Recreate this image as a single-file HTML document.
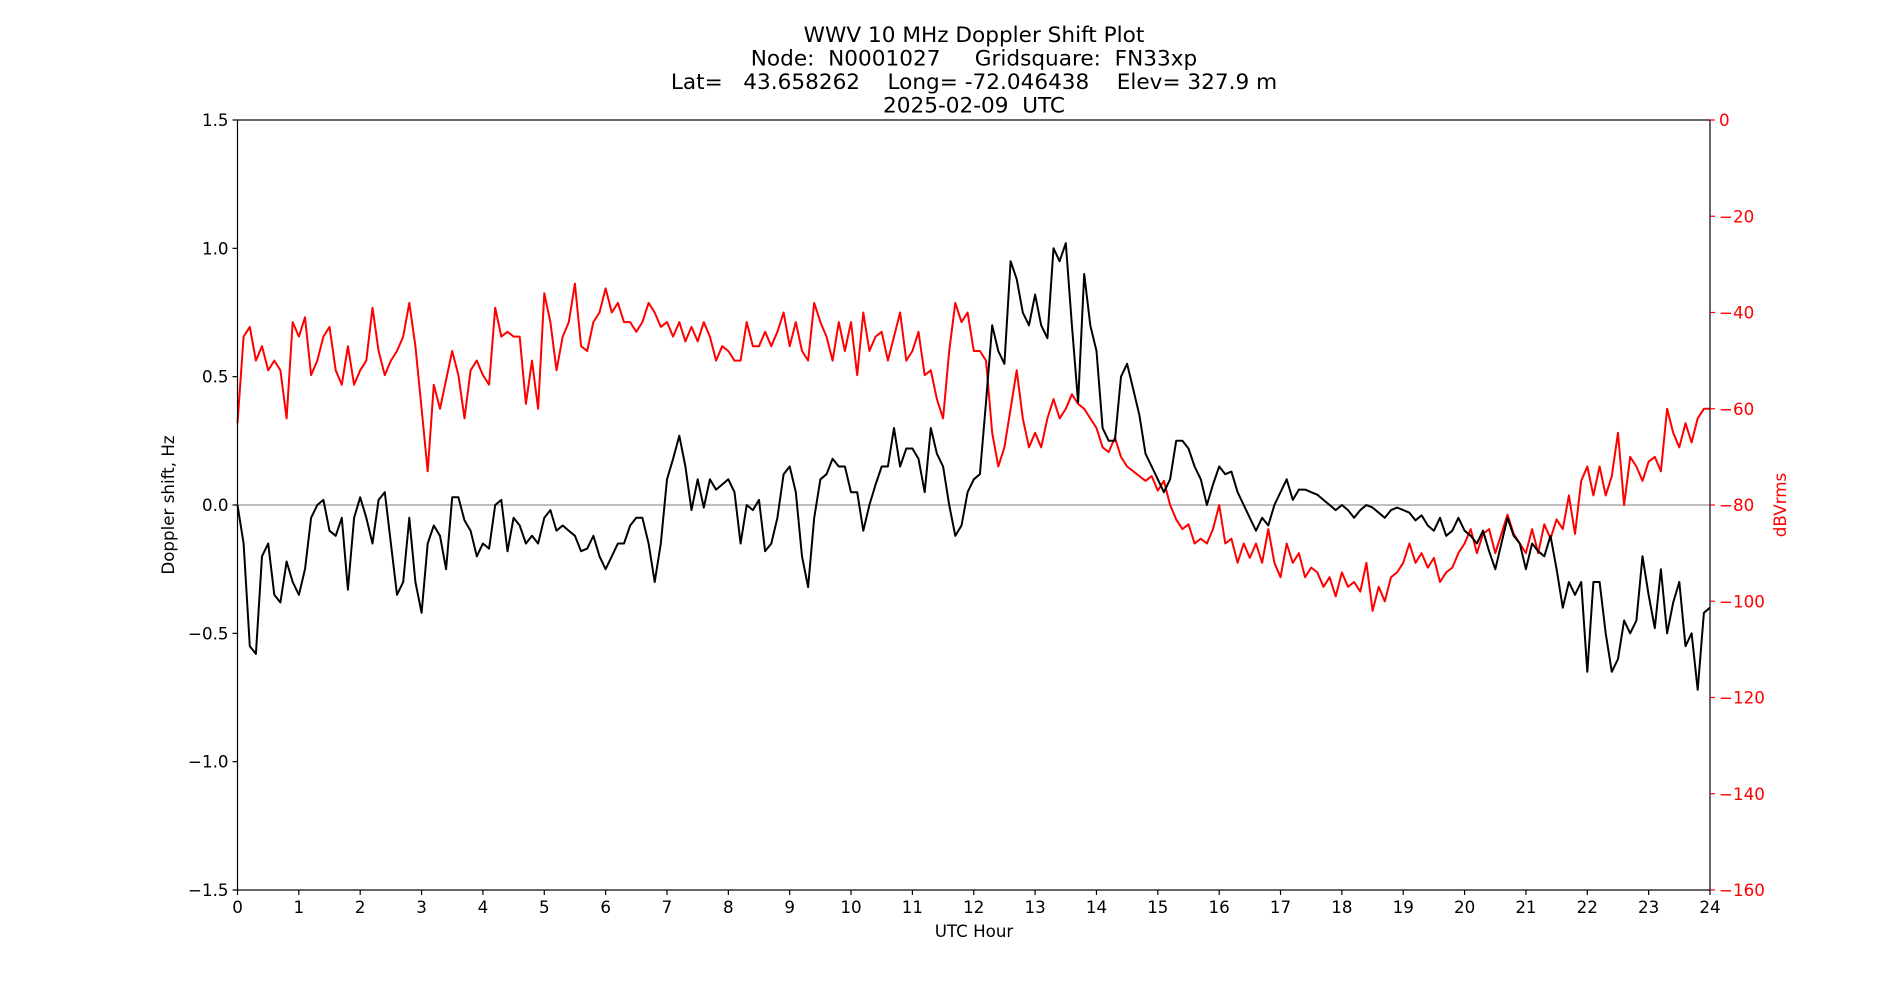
<!DOCTYPE html>
<html><head><meta charset="utf-8"><style>
html,body{margin:0;padding:0;background:#fff;}
svg{display:block;font-family:"DejaVu Sans","Liberation Sans",sans-serif;}
</style></head><body>
<svg id="chart" width="1900" height="1000" viewBox="0 0 1900 1000" xmlns="http://www.w3.org/2000/svg">
<g font-size="21.6" text-anchor="middle" fill="#000" style="white-space:pre">
<text x="974" y="42">WWV 10 MHz Doppler Shift Plot</text>
<text x="974" y="65.5" xml:space="preserve">Node:  N0001027     Gridsquare:  FN33xp</text>
<text x="974" y="89" xml:space="preserve">Lat=   43.658262    Long= -72.046438    Elev= 327.9 m</text>
<text x="974" y="112.5" xml:space="preserve">2025-02-09  UTC</text>
</g>
<g id="plot"></g>
<text x="974" y="937" font-size="16.7" text-anchor="middle">UTC Hour</text>
<text transform="translate(174,505) rotate(-90)" font-size="16.7" text-anchor="middle">Doppler shift, Hz</text>
<text transform="translate(1786,505) rotate(-90)" font-size="16.7" text-anchor="middle" fill="#ff0000">dBVrms</text>
</svg>
<script>
const dopplerHz = [0.0,-0.15,-0.55,-0.58,-0.2,-0.15,-0.35,-0.38,-0.22,-0.3,-0.35,-0.25,-0.05,0.0,0.02,-0.1,-0.12,-0.05,-0.33,-0.05,0.03,-0.05,-0.15,0.02,0.05,-0.15,-0.35,-0.3,-0.05,-0.3,-0.42,-0.15,-0.08,-0.12,-0.25,0.03,0.03,-0.06,-0.1,-0.2,-0.15,-0.17,0.0,0.02,-0.18,-0.05,-0.08,-0.15,-0.12,-0.15,-0.05,-0.02,-0.1,-0.08,-0.1,-0.12,-0.18,-0.17,-0.12,-0.2,-0.25,-0.2,-0.15,-0.15,-0.08,-0.05,-0.05,-0.15,-0.3,-0.15,0.1,0.18,0.27,0.15,-0.02,0.1,-0.01,0.1,0.06,0.08,0.1,0.05,-0.15,0.0,-0.02,0.02,-0.18,-0.15,-0.05,0.12,0.15,0.05,-0.2,-0.32,-0.05,0.1,0.12,0.18,0.15,0.15,0.05,0.05,-0.1,0.0,0.08,0.15,0.15,0.3,0.15,0.22,0.22,0.18,0.05,0.3,0.2,0.15,0.0,-0.12,-0.08,0.05,0.1,0.12,0.4,0.7,0.6,0.55,0.95,0.88,0.75,0.7,0.82,0.7,0.65,1.0,0.95,1.02,0.7,0.4,0.9,0.7,0.6,0.3,0.25,0.25,0.5,0.55,0.45,0.35,0.2,0.15,0.1,0.05,0.1,0.25,0.25,0.22,0.15,0.1,0.0,0.08,0.15,0.12,0.13,0.05,0.0,-0.05,-0.1,-0.05,-0.08,0.0,0.05,0.1,0.02,0.06,0.06,0.05,0.04,0.02,0.0,-0.02,0.0,-0.02,-0.05,-0.02,0.0,-0.01,-0.03,-0.05,-0.02,-0.01,-0.02,-0.03,-0.06,-0.04,-0.08,-0.1,-0.05,-0.12,-0.1,-0.05,-0.1,-0.12,-0.15,-0.1,-0.18,-0.25,-0.15,-0.05,-0.12,-0.15,-0.25,-0.15,-0.18,-0.2,-0.12,-0.25,-0.4,-0.3,-0.35,-0.3,-0.65,-0.3,-0.3,-0.5,-0.65,-0.6,-0.45,-0.5,-0.45,-0.2,-0.35,-0.48,-0.25,-0.5,-0.38,-0.3,-0.55,-0.5,-0.72,-0.42,-0.4];
const levelDb = [-63,-45,-43,-50,-47,-52,-50,-52,-62,-42,-45,-41,-53,-50,-45,-43,-52,-55,-47,-55,-52,-50,-39,-48,-53,-50,-48,-45,-38,-47,-60,-73,-55,-60,-54,-48,-53,-62,-52,-50,-53,-55,-39,-45,-44,-45,-45,-59,-50,-60,-36,-42,-52,-45,-42,-34,-47,-48,-42,-40,-35,-40,-38,-42,-42,-44,-42,-38,-40,-43,-42,-45,-42,-46,-43,-46,-42,-45,-50,-47,-48,-50,-50,-42,-47,-47,-44,-47,-44,-40,-47,-42,-48,-50,-38,-42,-45,-50,-42,-48,-42,-53,-40,-48,-45,-44,-50,-45,-40,-50,-48,-44,-53,-52,-58,-62,-48,-38,-42,-40,-48,-48,-50,-65,-72,-68,-60,-52,-62,-68,-65,-68,-62,-58,-62,-60,-57,-59,-60,-62,-64,-68,-69,-66,-70,-72,-73,-74,-75,-74,-77,-75,-80,-83,-85,-84,-88,-87,-88,-85,-80,-88,-87,-92,-88,-91,-88,-92,-85,-92,-95,-88,-92,-90,-95,-93,-94,-97,-95,-99,-94,-97,-96,-98,-92,-102,-97,-100,-95,-94,-92,-88,-92,-90,-93,-91,-96,-94,-93,-90,-88,-85,-90,-86,-85,-90,-86,-82,-86,-88,-90,-85,-90,-84,-87,-83,-85,-78,-86,-75,-72,-78,-72,-78,-74,-65,-80,-70,-72,-75,-71,-70,-73,-60,-65,-68,-63,-67,-62,-60,-60];
const xTicks = [0,1,2,3,4,5,6,7,8,9,10,11,12,13,14,15,16,17,18,19,20,21,22,23,24];
const yTicks = [1.5,1.0,0.5,0.0,-0.5,-1.0,-1.5];
const yTickLabels = ["1.5","1.0","0.5","0.0","\u22120.5","\u22121.0","\u22121.5"];
const y2Ticks = [0,-20,-40,-60,-80,-100,-120,-140,-160];
const y2TickLabels = ["0","\u221220","\u221240","\u221260","\u221280","\u2212100","\u2212120","\u2212140","\u2212160"];

const L=237.5,R=1710,T=120,B=890;
const xS=h=>L+(R-L)*h/24;
const yS=v=>T+(B-T)*(1.5-v)/3;
const y2S=d=>T+(B-T)*(-d)/160;
const NS="http://www.w3.org/2000/svg";
const plot=document.getElementById('plot');
function mk(tag,attrs,parent){const e=document.createElementNS(NS,tag);for(const k in attrs)e.setAttribute(k,attrs[k]);(parent||plot).appendChild(e);return e;}

const zl=mk('line',{x1:L,x2:R,y1:yS(0),y2:yS(0),stroke:'#999',"stroke-width":1.2});



function pts(arr,ys){return arr.map((v,i)=>xS(i*24/(arr.length-1)).toFixed(1)+','+ys(v).toFixed(1)).join(' ');}
const red=mk('polyline',{points:pts(levelDb,y2S),fill:'none',stroke:'#ff0000',"stroke-width":2,"stroke-linejoin":'round'});


const blk=mk('polyline',{points:pts(dopplerHz,yS),fill:'none',stroke:'#000',"stroke-width":2,"stroke-linejoin":'round'});



const frame=mk('rect',{x:L,y:T,width:R-L,height:B-T,fill:'none',stroke:'#000',"stroke-width":1.2});



xTicks.forEach(h=>{
  const x=xS(h);
  const t=mk('line',{x1:x,x2:x,y1:B,y2:B+5,stroke:'#000',"stroke-width":1.2});
  
  
  const tx=mk('text',{x:x,y:B+23,"font-size":16.7,"text-anchor":'middle'});
  tx.textContent=String(h);
  
  
});
yTicks.forEach((v,i)=>{
  const y=yS(v);
  const t=mk('line',{x1:L-5,x2:L,y1:y,y2:y,stroke:'#000',"stroke-width":1.2});
  
  
  const tx=mk('text',{x:L-9,y:y+6,"font-size":16.7,"text-anchor":'end'});
  tx.textContent=yTickLabels[i];
  
  
});
y2Ticks.forEach((d,i)=>{
  const y=y2S(d);
  const t=mk('line',{x1:R,x2:R+5,y1:y,y2:y,stroke:'#ff0000',"stroke-width":1.2});
  
  
  const tx=mk('text',{x:R+9,y:y+6,"font-size":16.7,fill:'#ff0000'});
  tx.textContent=y2TickLabels[i];
  
  
});
</script>
</body></html>
